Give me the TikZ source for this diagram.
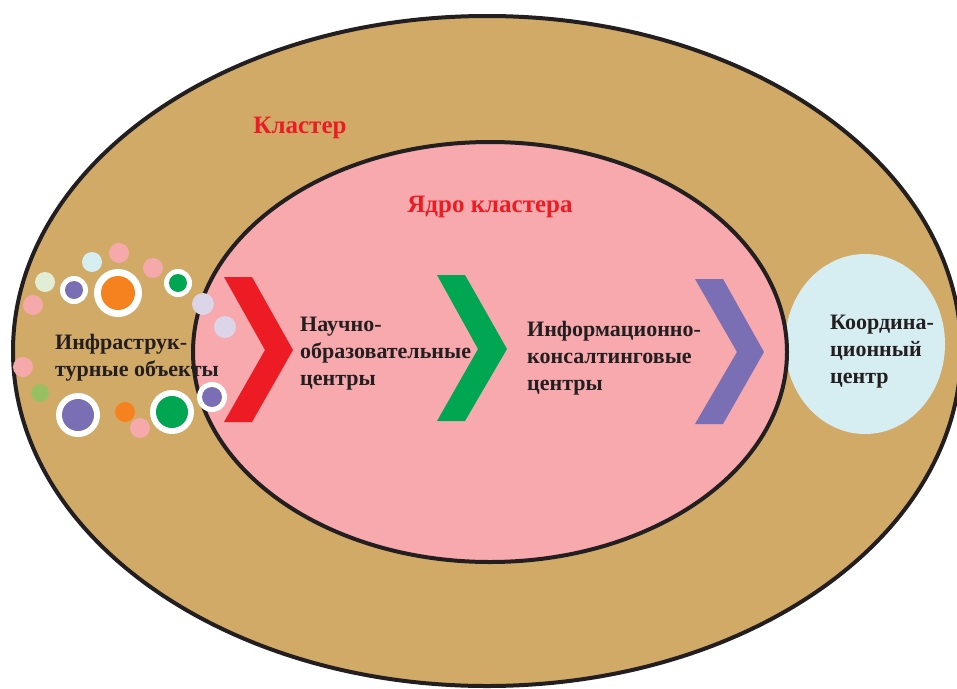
\documentclass[tikz,border=0pt]{standalone}
\usepackage{fontspec}
\setmainfont{Liberation Serif}
\usepackage{tikz}
\usetikzlibrary{positioning}

\definecolor{tan}{HTML}{D2AA67}
\definecolor{corepink}{HTML}{F7A9AD}
\definecolor{outline}{HTML}{231F20}
\definecolor{chred}{HTML}{ED1C24}
\definecolor{chgreen}{HTML}{00A651}
\definecolor{chpurple}{HTML}{7A6FB4}
\definecolor{coordblue}{HTML}{D6EEF2}
\definecolor{dotorange}{HTML}{F5821F}
\definecolor{dotpink}{HTML}{F5A9AB}
\definecolor{dotpale}{HTML}{E2EDD6}
\definecolor{dotlav}{HTML}{DBD5E7}
\definecolor{dotolive}{HTML}{98BF61}

\begin{document}
\begin{tikzpicture}[x=1pt,y=-1pt,
	label/.style={font=\bfseries\fontsize{22}{27}\selectfont,text=outline,align=left,inner sep=0pt},
	title/.style={font=\bfseries\fontsize{25}{30}\selectfont,text=chred,inner sep=0pt},
	ring/.style={fill=white},
	]
	\useasboundingbox (0,0) rectangle (957,688);
	%%%%%%%%%%%%%%% cluster and core
	\draw[line width=4pt,draw=outline,fill=tan] (487,351) ellipse [x radius=474,y radius=335];
	\fill[coordblue] (865,344) ellipse [x radius=80,y radius=90];
	\draw[line width=4pt,draw=outline,fill=corepink] (490,352) ellipse [x radius=297,y radius=210];
	%%%%%%%%%%%%%%% chevrons
	\fill[chred] (224,277) -- (252,277) -- (293,350) -- (252,422) -- (224,422) -- (265,350) -- cycle;
	\fill[chgreen] (437,275) -- (465,275) -- (507,349) -- (465,421) -- (437,421) -- (478,349) -- cycle;
	\fill[chpurple] (695,279) -- (723,279) -- (764,352) -- (723,424) -- (695,424) -- (737,352) -- cycle;
	%%%%%%%%%%%%%%% small objects
	\foreach \x/\y/\r/\c in {45/282/10/dotpale,92/262/10/coordblue,119/253/10/dotpink,
		153/268/10/dotpink,33/305/10/dotpink,203/304/11/dotlav,225/327/11/dotlav,
		23/367/10/dotpink,40/393/9/dotolive,125/412/10/dotorange,140/428/10/dotpink}
		\fill[\c] (\x,\y) circle[radius=\r];
	\foreach \x/\y/\ro/\ri/\c in {74/290/14/9/chpurple,118/293/24/17/dotorange,178/283/14/9/chgreen,
		78/415/22/16/chpurple,172/412/22/16/chgreen,212/397/15/10/chpurple}
		{\fill[ring] (\x,\y) circle[radius=\ro];
		\fill[\c] (\x,\y) circle[radius=\ri];}
	%%%%%%%%%%%%%%% texts
	\node[title] (cluster) at (300,128) {Кластер};
	\node[title] (core) at (490,207) {Ядро кластера};
	\node[label,anchor=west] (infra) at (55,358) {Инфраструк-\\турные объекты};
	\node[label,anchor=west] (science) at (300,354) {Научно-\\образовательные\\центры};
	\node[label,anchor=west] (inform) at (527,358) {Информационно-\\консалтинговые\\центры};
	\node[label,anchor=west] (coord) at (830,352) {Координа-\\ционный\\центр};
\end{tikzpicture}
\end{document}
